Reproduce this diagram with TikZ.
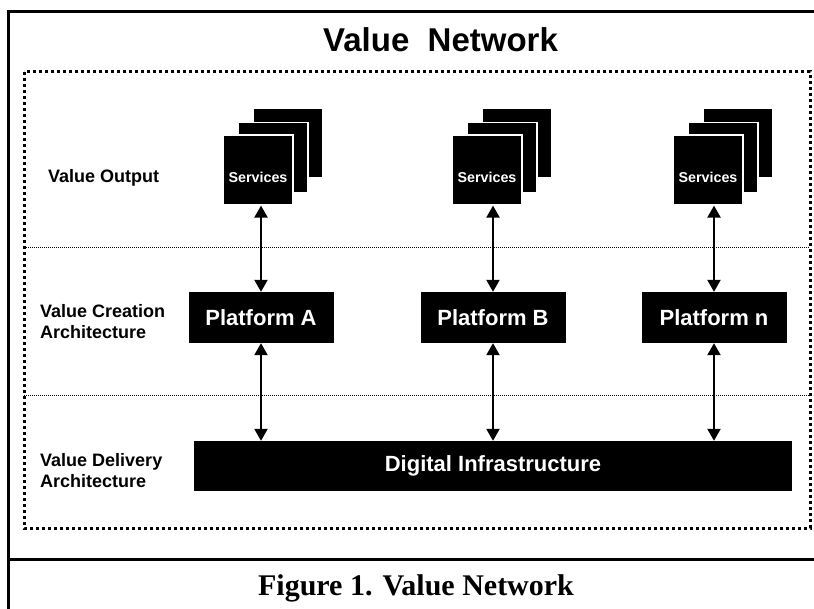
\documentclass[tikz,border=0pt]{standalone}
\usepackage{fontspec}
\setmainfont{Liberation Serif}
\setsansfont{Liberation Sans}
\usetikzlibrary{arrows.meta}
\tikzset{
    card/.style={fill=black,draw=white,line width=1.2pt,inner sep=0pt,minimum width=70pt,minimum height=70pt},
    cardtext/.style={text=white,inner sep=0pt,font=\sffamily\bfseries\fontsize{14.3}{16}\selectfont},
    platf/.style={fill=black,text=white,inner sep=0pt,minimum width=145pt,minimum height=51pt,font=\sffamily\bfseries\fontsize{22}{26}\selectfont},
    layer/.style={anchor=base west,align=left,inner sep=0pt,font=\sffamily\bfseries\fontsize{18}{21}\selectfont},
    link/.style={line width=2.2pt,{Triangle[width=13pt,length=12pt]}-{Triangle[width=13pt,length=12pt]}},
    divider/.style={line width=0.8pt,dash pattern=on 1pt off 1pt}
}

\begin{document}
\begin{tikzpicture}[x=1pt,y=-1pt]
        \useasboundingbox (0,0) rectangle (814,609);
        % frames and layers
        \draw [line width=3pt] (814,12) -- (8,12) -- (8,609);
        \draw [line width=3pt] (8,559) -- (814,559);
        \draw [line width=3pt,dash pattern=on 3pt off 3pt] (24,72) rectangle (810,528);
        \draw [divider] (24,247) -- (810,247);
        \draw [divider] (24,395) -- (810,395);
        \node [anchor=base west,inner sep=0pt,font=\sffamily\bfseries\fontsize{33}{38}\selectfont] (title) at (323,52) {Value\ \ Network};
        \node [anchor=base,inner sep=0pt,font=\rmfamily\bfseries\fontsize{30}{34}\selectfont] (caption) at (416,595) {Figure 1. Value Network};
        % base of a two-line label is its last line
        \node [layer] (lout) at (48,183) {Value Output};
        \node [layer] (lcre) at (40,339) {Value Creation\\Architecture};
        \node [layer] (ldel) at (40,487) {Value Delivery\\Architecture};
        % platforms
        \node [platf] (platA) at (261,317.5) {Platform A};
        \node [platf] (platB) at (493,317.5) {Platform B};
        \node [platf] (platn) at (714,317.5) {Platform n};
        \node [platf,minimum width=598pt,minimum height=50pt] (infra) at (493,466) {Digital Infrastructure};
        % service stacks
        \foreach \p/\x in {A/258,B/487,n/708} {
            \node [card] at (\x+30,143) {};
            \node [card] at (\x+15,157.5) {};
            \node [card] (svc\p) at (\x,170) {};
            \node [cardtext] at ([yshift=-7.5pt]svc\p.center) {Services};
            \draw [link] (svc\p.south -| plat\p.north) -- (plat\p.north);
            \draw [link] (plat\p.south) -- (plat\p.south |- infra.north);
        }
    \end{tikzpicture}
\end{document}
